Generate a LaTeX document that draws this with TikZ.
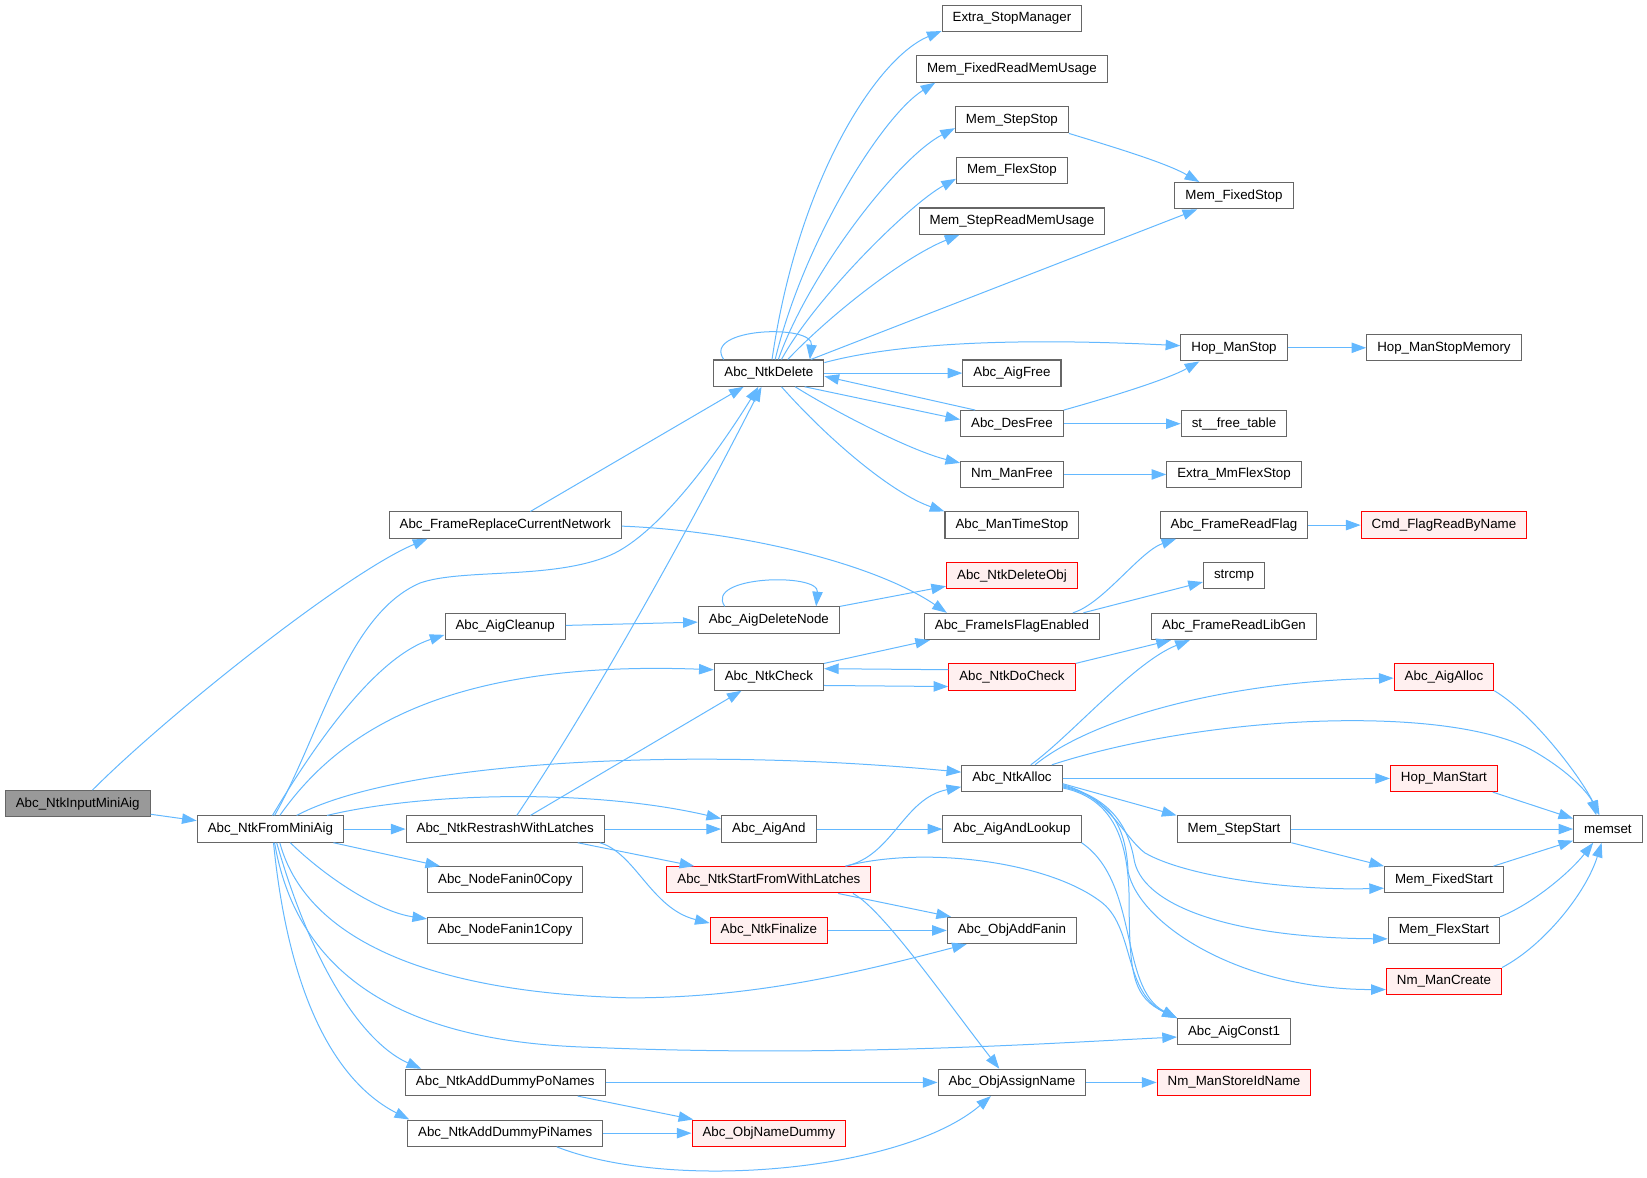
\documentclass[tikz,border=0pt]{standalone}
\usepackage{fontspec}
\setmainfont{Liberation Sans}
\usetikzlibrary{arrows.meta,calc}
\definecolor{edgeblue}{HTML}{63B8FF}
\definecolor{nodegray}{HTML}{666666}
\definecolor{rootfill}{HTML}{999999}
\definecolor{redfill}{HTML}{FFF0F0}
\begin{document}
\begin{tikzpicture}[x=0.7878pt,y=-0.7878pt,
  nd/.style={draw=nodegray, fill=white, line width=0.8pt, minimum height=19.7pt, inner xsep=7.9pt, inner ysep=0pt, font=\fontsize{10pt}{12pt}\selectfont},
  rednd/.style={nd, draw=red},
  rootnd/.style={nd, fill=rootfill},
  edg/.style={draw=edgeblue, line width=0.75pt, -{Triangle[length=11pt,width=7.8pt]}}]
\useasboundingbox (0,0) rectangle (1568,1121);
% column 0/1
\node[rootnd] (root) at (74,765.2) {Abc\_NtkInputMiniAig};
\node[nd] (frommini) at (257.4,789.3) {Abc\_NtkFromMiniAig};
% column 2
\node[nd] (replace) at (481,499.9) {Abc\_FrameReplaceCurrentNetwork};
\node[nd] (cleanup) at (481,596.4) {Abc\_AigCleanup};
\node[nd] (restrash) at (481,789.3) {Abc\_NtkRestrashWithLatches};
\node[nd] (fanin0) at (481,837.6) {Abc\_NodeFanin0Copy};
\node[nd] (fanin1) at (481,885.8) {Abc\_NodeFanin1Copy};
\node[nd] (dummypo) at (481,1030.5) {Abc\_NtkAddDummyPoNames};
\node[nd] (dummypi) at (481,1078.8) {Abc\_NtkAddDummyPiNames};
% column 3
\node[nd] (ntkdelete) at (732,355.2) {Abc\_NtkDelete};
\node[nd] (deletenode) at (732,590.3) {Abc\_AigDeleteNode};
\node[nd] (ntkcheck) at (732,644.6) {Abc\_NtkCheck};
\node[nd] (aigand) at (732,789.3) {Abc\_AigAnd};
\node[rednd, fill=redfill] (startfrom) at (732,837.6) {Abc\_NtkStartFromWithLatches};
\node[rednd, fill=redfill] (finalize) at (732,885.8) {Abc\_NtkFinalize};
\node[rednd, fill=redfill] (namedummy) at (732,1078.8) {Abc\_ObjNameDummy};
% column 4
\node[nd] (extrastop) at (963.4,17.5) {Extra\_StopManager};
\node[nd] (fixedread) at (963.4,65.7) {Mem\_FixedReadMemUsage};
\node[nd] (stepstop) at (963.4,114) {Mem\_StepStop};
\node[nd] (flexstop) at (963.4,162.2) {Mem\_FlexStop};
\node[nd] (stepread) at (963.4,210.5) {Mem\_StepReadMemUsage};
\node[nd] (aigfree) at (963.4,355.2) {Abc\_AigFree};
\node[nd] (desfree) at (963.4,403.4) {Abc\_DesFree};
\node[nd] (nmfree) at (963.4,451.7) {Nm\_ManFree};
\node[nd] (timestop) at (963.4,499.9) {Abc\_ManTimeStop};
\node[rednd, fill=redfill] (deleteobj) at (963.4,548.1) {Abc\_NtkDeleteObj};
\node[nd] (isflag) at (963.4,596.4) {Abc\_FrameIsFlagEnabled};
\node[rednd, fill=redfill] (docheck) at (963.4,644.6) {Abc\_NtkDoCheck};
\node[nd] (ntkalloc) at (963.4,741.1) {Abc\_NtkAlloc};
\node[nd] (andlookup) at (963.4,789.3) {Abc\_AigAndLookup};
\node[nd] (addfanin) at (963.4,885.8) {Abc\_ObjAddFanin};
\node[nd] (assignname) at (963.4,1030.5) {Abc\_ObjAssignName};
% column 5
\node[nd] (fixedstop) at (1174.8,186.3) {Mem\_FixedStop};
\node[nd] (hopstop) at (1174.8,331.1) {Hop\_ManStop};
\node[nd] (freetable) at (1174.8,403.4) {st\_\_free\_table};
\node[nd] (mmflexstop) at (1174.8,451.7) {Extra\_MmFlexStop};
\node[nd] (readflag) at (1174.8,499.9) {Abc\_FrameReadFlag};
\node[nd] (strcmp) at (1174.8,548.1) {strcmp};
\node[nd] (readlibgen) at (1174.8,596.4) {Abc\_FrameReadLibGen};
\node[nd] (stepstart) at (1174.8,789.3) {Mem\_StepStart};
\node[nd] (const1) at (1174.8,982.3) {Abc\_AigConst1};
\node[rednd, fill=redfill] (storeid) at (1174.8,1030.5) {Nm\_ManStoreIdName};
% column 6
\node[nd] (hopstopmem) at (1374.7,331.1) {Hop\_ManStopMemory};
\node[rednd, fill=redfill] (flagread) at (1374.7,499.9) {Cmd\_FlagReadByName};
\node[rednd, fill=redfill] (aigalloc) at (1374.7,644.6) {Abc\_AigAlloc};
\node[rednd, fill=redfill] (hopstart) at (1374.7,741.1) {Hop\_ManStart};
\node[nd] (fixedstart) at (1374.7,837.6) {Mem\_FixedStart};
\node[nd] (flexstart) at (1374.7,885.8) {Mem\_FlexStart};
\node[rednd, fill=redfill] (mancreate) at (1374.7,934.1) {Nm\_ManCreate};
% column 7
\node[nd] (memset) at (1530.8,789.3) {memset};

% ---- edges: root
\draw[edg] ($(root.north)+(14,0)$) .. controls (160,680) and (330,545) .. ($(replace.south)+(-74,0)$);
\draw[edg] ($(root.east)+(0,10)$) -- ($(frommini.west)+(0,-8)$);
% frommini
\draw[edg] ($(frommini.north)+(4,0)$) .. controls (305,700) and (330,585) .. (400,555) .. controls (440,541) and (525,552) .. (580,529) .. controls (630,508) and (690,420) .. ($(ntkdelete.south)+(-10,0)$);
\draw[edg] ($(frommini.north)+(2,0)$) .. controls (305,700) and (360,625) .. ($(cleanup.west)+(0,8)$);
\draw[edg] ($(frommini.north)+(9,0)$) .. controls (320,700) and (420,628) .. ($(ntkcheck.west)+(0,-7)$);
\draw[edg] ($(frommini.north)+(25,0)$) .. controls (380,725) and (650,710) .. ($(ntkalloc.west)+(0,-6)$);
\draw[edg] ($(frommini.north)+(54,0)$) .. controls (400,755) and (560,750) .. ($(aigand.west)+(0,-10)$);
\draw[edg] (frommini) -- (restrash);
\draw[edg] ($(frommini.south)+(60,0)$) -- ($(fanin0.north)+(-62,0)$);
\draw[edg] ($(frommini.south)+(19,0)$) .. controls (310,835) and (360,868) .. ($(fanin1.west)+(0,-11)$);
\draw[edg] ($(frommini.south)+(9,0)$) .. controls (290,890) and (400,945) .. (600,950) .. controls (720,950) and (820,925) .. ($(addfanin.south)+(-43,0)$);
\draw[edg] ($(frommini.south)+(4,0)$) .. controls (285,940) and (400,992) .. (560,997) .. controls (800,1007) and (1000,993) .. ($(const1.west)+(0,5)$);
\draw[edg] ($(frommini.south)+(6,0)$) .. controls (300,930) and (350,995) .. ($(dummypo.north)+(-80,0)$);
\draw[edg] ($(frommini.south)+(3,0)$) .. controls (275,950) and (320,1030) .. ($(dummypi.north west)+(2,0)$);
% restrash
\draw[edg] ($(restrash.north)+(11,0)$) .. controls (572,657) and (664,488) .. ($(ntkdelete.south)+(-7,0)$);
\draw[edg] ($(restrash.north)+(24,0)$) -- ($(ntkcheck.south)+(-26,0)$);
\draw[edg] (restrash) -- (aigand);
\draw[edg] ($(restrash.south)+(69,0)$) -- ($(startfrom.north)+(-71,0)$);
\draw[edg] ($(restrash.south)+(90,0)$) .. controls (605,812) and (620,865) .. ($(finalize.west)+(0,-7)$);
% startfrom
\draw[edg] ($(startfrom.north)+(73,0)$) .. controls (850,815) and (860,760) .. ($(ntkalloc.west)+(0,8)$);
\draw[edg] ($(startfrom.south)+(66,0)$) -- ($(addfanin.north)+(-58,0)$);
\draw[edg] ($(startfrom.south)+(80,0)$) .. controls (840,865) and (901,953) .. ($(assignname.north)+(-12,0)$);
\draw[edg] ($(startfrom.north)+(73,0)$) .. controls (880,805) and (1000,820) .. (1050,860) .. controls (1080,885) and (1070,945) .. (const1.north west);
% finalize, dummies
\draw[edg] (finalize) -- (addfanin);
\draw[edg] (dummypo) -- (assignname);
\draw[edg] ($(dummypo.south)+(69,0)$) -- ($(namedummy.north)+(-72,0)$);
\draw[edg] (dummypi) -- (namedummy);
\draw[edg] ($(dummypi.south)+(49,0)$) .. controls (640,1135) and (860,1115) .. ($(assignname.south)+(-20,0)$);
% cleanup, deletenode
\draw[edg] ($(cleanup.east)+(0,-1)$) -- ($(deletenode.west)+(0,2)$);
\draw[edg] ($(deletenode.north)+(-42,0)$) .. controls (670,548) and (780,545) .. ($(deletenode.north)+(45,0)$);
\draw[edg] (deletenode.north east) -- ($(deleteobj.west)+(0,10)$);
% replace
\draw[edg] ($(replace.north)+(24,0)$) -- ($(ntkdelete.south)+(-24,0)$);
\draw[edg] ($(replace.east)+(0,1)$) .. controls (700,505) and (830,535) .. ($(isflag.north)+(-62,0)$);
% ntkcheck, docheck
\draw[edg] (ntkcheck.north east) -- ($(isflag.south)+(-78,0)$);
\draw[edg] ($(ntkcheck.east)+(0,8)$) -- ($(docheck.west)+(0,9)$);
\draw[edg] ($(docheck.west)+(0,-7)$) -- ($(ntkcheck.east)+(0,-8)$);
\draw[edg] (docheck.north east) -- ($(readlibgen.south)+(-60,0)$);
% isflag
\draw[edg] ($(isflag.north)+(58,0)$) .. controls (1050,575) and (1085,525) .. ($(readflag.south)+(-55,0)$);
\draw[edg] ($(isflag.north)+(68,0)$) -- ($(strcmp.west)+(0,6)$);
\draw[edg] (readflag) -- (flagread);
% aigand
\draw[edg] (aigand) -- (andlookup);
\draw[edg] (andlookup.south east) .. controls (1085,840) and (1065,940) .. (const1.north west);
% ntkalloc
\draw[edg] ($(ntkalloc.north)+(18,0)$) .. controls (1020,700) and (1080,630) .. ($(readlibgen.south)+(-42,0)$);
\draw[edg] ($(ntkalloc.north)+(22,0)$) .. controls (1045,680) and (1180,648) .. ($(aigalloc.west)+(0,1)$);
\draw[edg] ($(ntkalloc.north)+(38,0)$) .. controls (1150,680) and (1380,670) .. (1460,715) .. controls (1500,738) and (1515,760) .. ($(memset.north)+(-11,0)$);
\draw[edg] (ntkalloc) -- (hopstart);
\draw[edg] ($(ntkalloc.east)+(0,5)$) -- (stepstart.north west);
\draw[edg] ($(ntkalloc.east)+(0,6)$) .. controls (1055,758) and (1070,797) .. (1090,812) .. controls (1130,835) and (1230,848) .. ($(fixedstart.west)+(0,8)$);
\draw[edg] ($(ntkalloc.east)+(0,7)$) .. controls (1060,760) and (1075,790) .. (1080,820) .. controls (1090,865) and (1180,893) .. ($(flexstart.west)+(0,8)$);
\draw[edg] ($(ntkalloc.east)+(0,8)$) .. controls (1060,760) and (1072,790) .. (1074,830) .. controls (1085,880) and (1180,942) .. ($(mancreate.west)+(0,8)$);
\draw[edg] ($(ntkalloc.east)+(0,9)$) .. controls (1060,760) and (1075,800) .. (1075,860) .. controls (1075,930) and (1080,950) .. (const1.north west);
% memset group
\draw[edg] (aigalloc.south east) .. controls (1460,680) and (1505,740) .. ($(memset.north)+(-8,0)$);
\draw[edg] ($(hopstart.south east)+(-5,0)$) -- ($(memset.west)+(0,-10)$);
\draw[edg] (stepstart) -- (memset);
\draw[edg] (stepstart.south east) -- (fixedstart.north west);
\draw[edg] ($(fixedstart.north east)+(-10,0)$) -- ($(memset.west)+(0,11)$);
\draw[edg] (flexstart.north east) .. controls (1460,860) and (1495,830) .. ($(memset.south)+(-14,0)$);
\draw[edg] (mancreate.north east) .. controls (1470,900) and (1510,850) .. ($(memset.south)+(-6,0)$);
\draw[edg] (assignname) -- (storeid);
% ntkdelete fan
\draw[edg] ($(ntkdelete.north)+(-43,0)$) .. controls (668,312) and (775,308) .. ($(ntkdelete.north)+(39,0)$);
\draw[edg] ($(ntkdelete.north)+(3,0)$) .. controls (760,170) and (835,55) .. ($(extrastop.south west)+(0,-1)$);
\draw[edg] ($(ntkdelete.north)+(6,0)$) .. controls (765,230) and (840,110) .. ($(fixedread.south)+(-73,0)$);
\draw[edg] ($(ntkdelete.north)+(9,0)$) .. controls (770,260) and (855,150) .. ($(stepstop.west)+(0,8)$);
\draw[edg] ($(ntkdelete.north)+(12,0)$) .. controls (775,285) and (865,195) .. ($(flexstop.west)+(0,8)$);
\draw[edg] ($(ntkdelete.north)+(18,0)$) .. controls (790,300) and (860,245) .. ($(stepread.south)+(-50,0)$);
\draw[edg] ($(ntkdelete.north)+(40,0)$) -- ($(fixedstop.south)+(-35,0)$);
\draw[edg] ($(ntkdelete.east)+(0,-10)$) .. controls (860,325) and (980,322) .. ($(hopstop.west)+(0,-2)$);
\draw[edg] (ntkdelete) -- (aigfree);
\draw[edg] ($(ntkdelete.south)+(34,0)$) -- ($(desfree.west)+(0,-4)$);
\draw[edg] ($(desfree.north)+(-35,0)$) -- ($(ntkdelete.east)+(0,3)$);
\draw[edg] ($(ntkdelete.south)+(25,0)$) .. controls (800,395) and (870,430) .. ($(nmfree.west)+(0,-11)$);
\draw[edg] ($(ntkdelete.south)+(12,0)$) .. controls (790,420) and (850,470) .. (timestop.north west);
% others
\draw[edg] (stepstop.south east) .. controls (1060,140) and (1110,155) .. ($(fixedstop.north)+(-33,0)$);
\draw[edg] (desfree.north east) .. controls (1050,380) and (1110,362) .. ($(hopstop.south)+(-33,0)$);
\draw[edg] (desfree) -- (freetable);
\draw[edg] (nmfree) -- (mmflexstop);
\draw[edg] (hopstop) -- (hopstopmem);
\end{tikzpicture}
\end{document}
